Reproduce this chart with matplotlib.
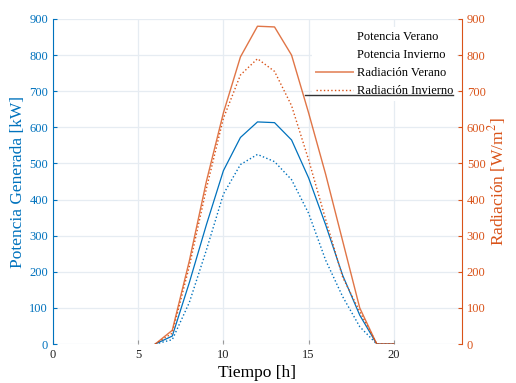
import numpy as np
import matplotlib
matplotlib.use('Agg')
import matplotlib.pyplot as plt
from matplotlib.lines import Line2D

plt.rcParams['font.family'] = ['Liberation Serif', 'DejaVu Serif']
plt.rcParams['mathtext.fontset'] = 'stix'

# Datos
horas = [6, 7, 8, 9, 10, 11, 12, 13, 14, 15, 16, 17, 18, 19, 20]
pot_verano = [0, 22, 170, 330, 480, 572, 615, 613, 565, 460, 330, 190, 80, 0, 0]
pot_invierno = [0, 12, 115, 260, 415, 497, 525, 505, 455, 362, 232, 131, 48, 0, 0]
rad_verano = [0, 38, 230, 450, 640, 795, 880, 878, 800, 640, 470, 285, 100, 0, 0]
rad_invierno = [0, 30, 215, 430, 625, 745, 790, 755, 660, 510, 345, 185, 90, 0, 0]

x_ticks = [0, 5, 10, 15, 20]
y_ticks = list(range(0, 1000, 100))

azul = '#0072BD'
naranja = '#D95319'

fig = plt.figure(figsize=(5.16, 3.83), dpi=100)
ax = fig.add_axes([0.1027, 0.1018, 0.7926, 0.8486])
ax2 = ax.twinx()

# Potencia (eje izquierdo)
ax.plot(horas, pot_verano, color=azul, lw=0.9, label='Potencia Verano')
ax.plot(horas, pot_invierno, color=azul, lw=1.0, ls=':', label='Potencia Invierno')

# Radiacion (eje derecho)
ax2.plot(horas, rad_verano, color=naranja, lw=1.0, alpha=0.8, label='Radiación Verano')
ax2.plot(horas, rad_invierno, color=naranja, lw=1.0, ls=':', label='Radiación Invierno')

for a in (ax, ax2):
    a.set_xlim(0, 24)
    a.set_ylim(0, 900)
    a.set_yticks(y_ticks)
    a.spines['top'].set_visible(False)
    a.spines['bottom'].set_visible(False)

ax.set_xticks(x_ticks)
ax.grid(True, color='#e6ecf2', lw=0.9)
ax.set_axisbelow(True)

ax.spines['left'].set_color(azul)
ax.spines['right'].set_visible(False)
ax2.spines['left'].set_visible(False)
ax2.spines['right'].set_color(naranja)

ax.tick_params(axis='y', direction='in', colors=azul, labelsize=9, length=3)
ax.tick_params(axis='x', direction='in', color='#999999', labelcolor='#222222', labelsize=9, length=3)
ax2.tick_params(axis='y', direction='in', colors=naranja, labelsize=9, length=3)

ax.set_xlabel('Tiempo [h]', fontsize=12.5, labelpad=3)
ax.set_ylabel('Potencia Generada [kW]', fontsize=12.5, color=azul, labelpad=2)
ax2.set_ylabel('Radiación [W/m$^2$]', fontsize=12.5, color=naranja, labelpad=0)

# Leyenda (las entradas de potencia sin muestra de linea)
handles = [Line2D([], [], color='none'),
           Line2D([], [], color='none'),
           Line2D([], [], color=naranja, lw=1.4, alpha=0.6),
           Line2D([], [], color=naranja, lw=1.0, ls=':')]
labels = ['Potencia Verano', 'Potencia Invierno', 'Radiación Verano', 'Radiación Invierno']
leg = ax2.legend(handles, labels, loc='upper right', bbox_to_anchor=(1.003, 0.995),
                 fontsize=9, frameon=True, fancybox=False, handlelength=3.0,
                 handletextpad=0.3, labelspacing=0.5, borderpad=0.3)
leg.get_frame().set_facecolor('white')
leg.get_frame().set_edgecolor('none')
leg.get_frame().set_alpha(1)
ax2.plot([0.616, 0.978], [0.766, 0.766], transform=ax2.transAxes, color='#333333',
         lw=1.0, zorder=6)

fig.savefig('out.png', dpi=100)
